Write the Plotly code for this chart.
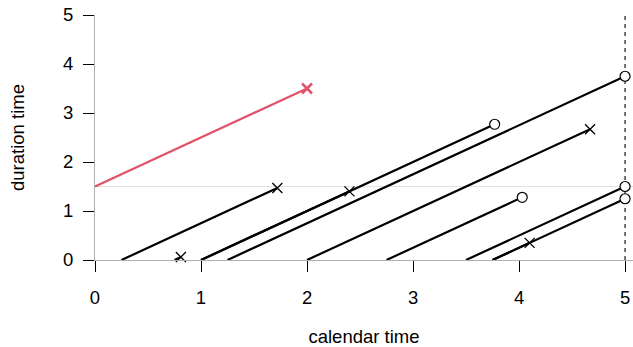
import plotly.graph_objects as go

# Lexis-diagram style data (calendar time vs duration time)
entry_time = [0.25, 0.75, 1.0, 1.0, 1.25, 2.0, 2.75, 3.5, 3.75, 3.75]
entry_dur = [0.0, 0.0, 0.0, 0.0, 0.0, 0.0, 0.0, 0.0, 0.0, 0.0]
exit_time = [1.72, 0.81, 2.40, 3.77, 5.0, 4.67, 4.03, 5.0, 5.0, 4.10]
exit_dur = [1.47, 0.06, 1.40, 2.77, 3.75, 2.67, 1.28, 1.50, 1.25, 0.35]
event = [1, 1, 1, 0, 0, 1, 0, 0, 0, 1]  # 1 = event (x), 0 = censored (o)

red_entry_time = [0.0]
red_entry_dur = [1.5]
red_exit_time = [2.0]
red_exit_dur = [3.5]

x_ticks = [0, 1, 2, 3, 4, 5]
y_ticks = [0, 1, 2, 3, 4, 5]
ref_dur = 1.5
admin_end = 5.0

fig = go.Figure()

# black follow-up lines
lx, ly = [], []
for a, b, c, d in zip(entry_time, entry_dur, exit_time, exit_dur):
    lx += [a, c, None]
    ly += [b, d, None]
fig.add_trace(go.Scatter(x=lx, y=ly, mode="lines",
                         line=dict(color="black", width=2.2),
                         hoverinfo="skip", showlegend=False))

# red line
rx, ry = [], []
for a, b, c, d in zip(red_entry_time, red_entry_dur, red_exit_time, red_exit_dur):
    rx += [a, c, None]
    ry += [b, d, None]
fig.add_trace(go.Scatter(x=rx, y=ry, mode="lines",
                         line=dict(color="#DF536B", width=2.2),
                         hoverinfo="skip", showlegend=False))

# markers: events
ex = [t for t, e in zip(exit_time, event) if e == 1]
ey = [d for d, e in zip(exit_dur, event) if e == 1]
fig.add_trace(go.Scatter(x=ex, y=ey, mode="markers", cliponaxis=False,
                         marker=dict(symbol="x-thin", size=10,
                                     line=dict(color="black", width=1.3)),
                         showlegend=False))
# censored
cx = [t for t, e in zip(exit_time, event) if e == 0]
cy = [d for d, e in zip(exit_dur, event) if e == 0]
fig.add_trace(go.Scatter(x=cx, y=cy, mode="markers", cliponaxis=False,
                         marker=dict(symbol="circle", size=10, color="white",
                                     line=dict(color="black", width=1.2)),
                         showlegend=False))
# red event
fig.add_trace(go.Scatter(x=red_exit_time, y=red_exit_dur, mode="markers",
                         cliponaxis=False,
                         marker=dict(symbol="x-thin", size=10,
                                     line=dict(color="#DF536B", width=2.5)),
                         showlegend=False))

fig.add_shape(type="line", xref="paper", x0=0, x1=1, yref="y",
              y0=ref_dur, y1=ref_dur, line=dict(color="#e3e3e3", width=1.2),
              layer="below")
fig.add_shape(type="line", xref="x", x0=admin_end, x1=admin_end, yref="y",
              y0=0, y1=5, line=dict(color="black", width=1.1, dash="4px,4px"),
              layer="below")

font = "Liberation Sans, Arial, sans-serif"
fs = 18.5
fig.update_layout(
    width=633, height=347,
    margin=dict(l=95, r=0, t=15, b=87),
    paper_bgcolor="white", plot_bgcolor="white",
    font=dict(family=font, size=fs, color="black"),
    xaxis=dict(range=[0, 5.075], tickvals=x_ticks, ticks="outside", ticklen=11,
               tickcolor="black", tickwidth=1, showline=True, linecolor="#b0b0b0",
               linewidth=1.2, showgrid=False, zeroline=False,
               ticklabelstandoff=10,
               title=dict(text="calendar time", standoff=25,
                          font=dict(size=fs)),
               automargin=False),
    yaxis=dict(range=[0, 5], tickvals=y_ticks, ticks="outside", ticklen=11,
               tickcolor="black", tickwidth=1, showline=True, linecolor="#b0b0b0",
               linewidth=1.2, showgrid=False, zeroline=False,
               ticklabelstandoff=6,
               title=dict(text="duration time", standoff=33,
                          font=dict(size=fs)),
               automargin=False),
)

fig.write_html("out.html", config={"displayModeBar": False},
               post_script="document.body.style.margin='0px';document.body.style.overflow='hidden';")
